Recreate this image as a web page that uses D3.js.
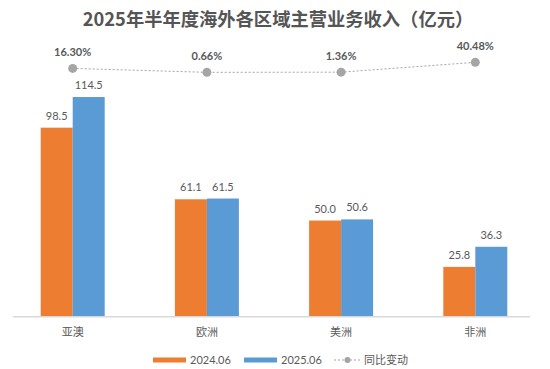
<!DOCTYPE html>
<html>
<head>
<meta charset="utf-8">
<script src="https://cdn.jsdelivr.net/npm/d3@7"></script>
<style>
  body { margin: 0; background: #fff; }
  text { font-family: Lato, "Noto Sans CJK SC", sans-serif; }
</style>
</head>
<body>
<div id="chart"></div>
<script>
// chart data
const categories = ['亚澳', '欧洲', '美洲', '非洲'];
const seriesNames = ['2024.06', '2025.06'];
const values2024 = [98.5, 61.1, 50.0, 25.8];
const values2025 = [114.5, 61.5, 50.6, 36.3];
const yoyChange = [16.30, 0.66, 1.36, 40.48];
const colors = ['#ed7d31', '#5b9bd5'];

const width = 550, height = 369;
const baseline = 316.3;

const svg = d3.select('#chart').append('svg')
    .attr('width', width)
    .attr('height', height);

// title
svg.append('text')
    .attr('x', 278)
    .attr('y', 26)
    .attr('text-anchor', 'middle')
    .style('font-family', '"Noto Sans CJK SC", sans-serif')
    .style('font-size', '18.3px')
    .style('font-weight', 'bold')
    .attr('fill', '#555555')
    .text('2025年半年度海外各区域主营业务收入（亿元）');

// scales
const x0 = d3.scaleBand()
    .domain(categories)
    .range([5.6, 542.4]);

const x1 = d3.scaleBand()
    .domain(seriesNames)
    .range([0, x0.bandwidth()])
    .paddingOuter(1.097);

const y = d3.scaleLinear()
    .domain([0, 140])
    .range([baseline, baseline - 140 * 1.915]);

// secondary axis for yoy change
const y2 = d3.scaleLinear()
    .domain([0, 100])
    .range([72.5, 47.4]);

// bars
const rows = categories.map((c, i) => ({
    cat: c,
    vals: [values2024[i], values2025[i]]
}));

const groups = svg.selectAll('g.cat')
    .data(rows)
    .enter().append('g')
    .attr('class', 'cat')
    .attr('transform', d => `translate(${x0(d.cat)},0)`);

groups.selectAll('rect')
    .data(d => d.vals.map((v, j) => ({ name: seriesNames[j], v, j })))
    .enter().append('rect')
    .attr('x', d => x1(d.name))
    .attr('y', d => y(d.v))
    .attr('width', x1.bandwidth())
    .attr('height', d => y(0) - y(d.v))
    .attr('fill', d => colors[d.j]);

groups.selectAll('text.val')
    .data(d => d.vals.map((v, j) => ({ name: seriesNames[j], v, j })))
    .enter().append('text')
    .attr('class', 'val')
    .attr('x', d => x1(d.name) + x1.bandwidth() / 2)
    .attr('y', d => y(d.v) - 8)
    .attr('text-anchor', 'middle')
    .style('font-size', '11px')
    .attr('fill', '#595959')
    .text(d => d.v.toFixed(1));

// category axis
svg.append('line')
    .attr('x1', 13).attr('x2', 530)
    .attr('y1', baseline + 0.5).attr('y2', baseline + 0.5)
    .attr('stroke', '#d9d9d9')
    .attr('stroke-width', 1.5);

svg.selectAll('text.cat')
    .data(categories)
    .enter().append('text')
    .attr('class', 'cat')
    .attr('x', d => x0(d) + x0.bandwidth() / 2)
    .attr('y', 336)
    .attr('text-anchor', 'middle')
    .style('font-family', '"Noto Sans CJK SC", sans-serif')
    .style('font-size', '11px')
    .attr('fill', '#595959')
    .text(d => d);

// yoy line
const cx = (d, i) => x0(categories[i]) + x0.bandwidth() / 2;

svg.append('path')
    .datum(yoyChange)
    .attr('d', d3.line().x(cx).y(d => y2(d)))
    .attr('fill', 'none')
    .attr('stroke', '#a5a5a5')
    .attr('stroke-width', 1)
    .attr('stroke-dasharray', '2,2');

svg.selectAll('circle.yoy')
    .data(yoyChange)
    .enter().append('circle')
    .attr('class', 'yoy')
    .attr('cx', cx)
    .attr('cy', d => y2(d))
    .attr('r', 4.5)
    .attr('fill', '#a5a5a5');

svg.selectAll('text.yoy')
    .data(yoyChange)
    .enter().append('text')
    .attr('class', 'yoy')
    .attr('x', cx)
    .attr('y', d => y2(d) - 12)
    .attr('text-anchor', 'middle')
    .style('font-size', '11px')
    .style('font-weight', 'bold')
    .attr('fill', '#595959')
    .text(d => d.toFixed(2) + '%');

// legend
const legend = svg.append('g').attr('transform', 'translate(0,360)');

seriesNames.forEach((name, i) => {
    const lx = 153 + i * 91;
    legend.append('rect')
        .attr('x', lx).attr('y', -2.5)
        .attr('width', 33).attr('height', 5)
        .attr('fill', colors[i]);
    legend.append('text')
        .attr('x', lx + 37).attr('y', 4)
        .style('font-size', '11px')
        .attr('fill', '#595959')
        .text(name);
});

legend.append('line')
    .attr('x1', 334).attr('x2', 361)
    .attr('y1', 0).attr('y2', 0)
    .attr('stroke', '#a5a5a5')
    .attr('stroke-dasharray', '2,2');
legend.append('circle')
    .attr('cx', 347.5).attr('cy', 0)
    .attr('r', 3)
    .attr('fill', '#a5a5a5');
legend.append('text')
    .attr('x', 364).attr('y', 4)
    .style('font-family', '"Noto Sans CJK SC", sans-serif')
    .style('font-size', '11px')
    .attr('fill', '#595959')
    .text('同比变动');
</script>
</body>
</html>
